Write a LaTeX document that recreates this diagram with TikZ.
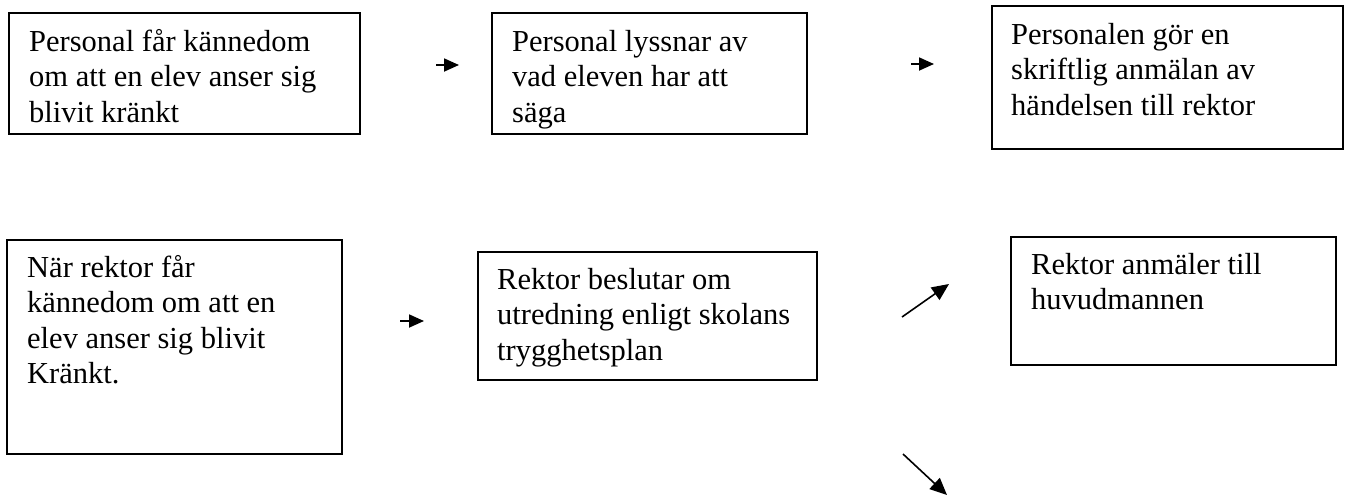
\documentclass[tikz,border=0pt]{standalone}
\usepackage{fontspec}
\setmainfont{Liberation Serif}
\usetikzlibrary{arrows.meta}
\tikzset{
  box/.style={draw, line width=1.5pt, anchor=north west, inner sep=0pt},
  boxtext/.style={anchor=north west, inner sep=0pt, align=left,
    font=\fontsize{30.5}{35.6}\selectfont},
  arr/.style={line width=1.8pt, -{Triangle[length=15pt,width=13pt]}},
  diag/.style={line width=1.6pt, -{Triangle[length=17pt,width=15pt]}}
}

\begin{document}
\begin{tikzpicture}[x=1pt, y=-1pt]
  \useasboundingbox (0,0) rectangle (1346,496);

  % first row
  \node [box, minimum width=351, minimum height=121] (b1) at (8,12) {};
  \node [box, minimum width=315, minimum height=121] (b2) at (491,12) {};
  \node [box, minimum width=351, minimum height=143] (b3) at (991,5) {};

  \node [boxtext] (t1) at ([shift={(21,14)}]b1.north west)
    {\strut Personal får kännedom\\om att en elev anser sig\\blivit kränkt};
  \node [boxtext] (t2) at ([shift={(21,14)}]b2.north west)
    {\strut Personal lyssnar av\\vad eleven har att\\säga};
  \node [boxtext] (t3) at ([shift={(20,14)}]b3.north west)
    {\strut Personalen gör en\\skriftlig anmälan av\\händelsen till rektor};

  % second row
  \node [box, minimum width=335, minimum height=214] (b4) at (6,239) {};
  \node [box, minimum width=339, minimum height=128] (b5) at (477,251) {};
  \node [box, minimum width=325, minimum height=128] (b6) at (1010,236) {};

  \node [boxtext] (t4) at ([shift={(21,13)}]b4.north west)
    {\strut När rektor får\\kännedom om att en\\elev anser sig blivit\\Kränkt.};
  \node [boxtext] (t5) at ([shift={(20,13)}]b5.north west)
    {\strut Rektor beslutar om\\utredning enligt skolans\\trygghetsplan};
  \node [boxtext] (t6) at ([shift={(21,13)}]b6.north west)
    {\strut Rektor anmäler till\\huvudmannen};

  % loose arrows between the boxes
  \coordinate (a1s) at (436,65);  \coordinate (a1e) at (459,65);
  \coordinate (a2s) at (911,64);  \coordinate (a2e) at (934,64);
  \coordinate (a3s) at (400,321); \coordinate (a3e) at (424,321);
  \coordinate (a4s) at (902,317); \coordinate (a4e) at (949,284);
  \coordinate (a5s) at (903,454); \coordinate (a5e) at (947,495);

  \draw [arr] (a1s) -- (a1e);
  \draw [arr] (a2s) -- (a2e);
  \draw [arr] (a3s) -- (a3e);
  \draw [diag] (a4s) -- (a4e);
  \draw [diag] (a5s) -- (a5e);
\end{tikzpicture}
\end{document}
